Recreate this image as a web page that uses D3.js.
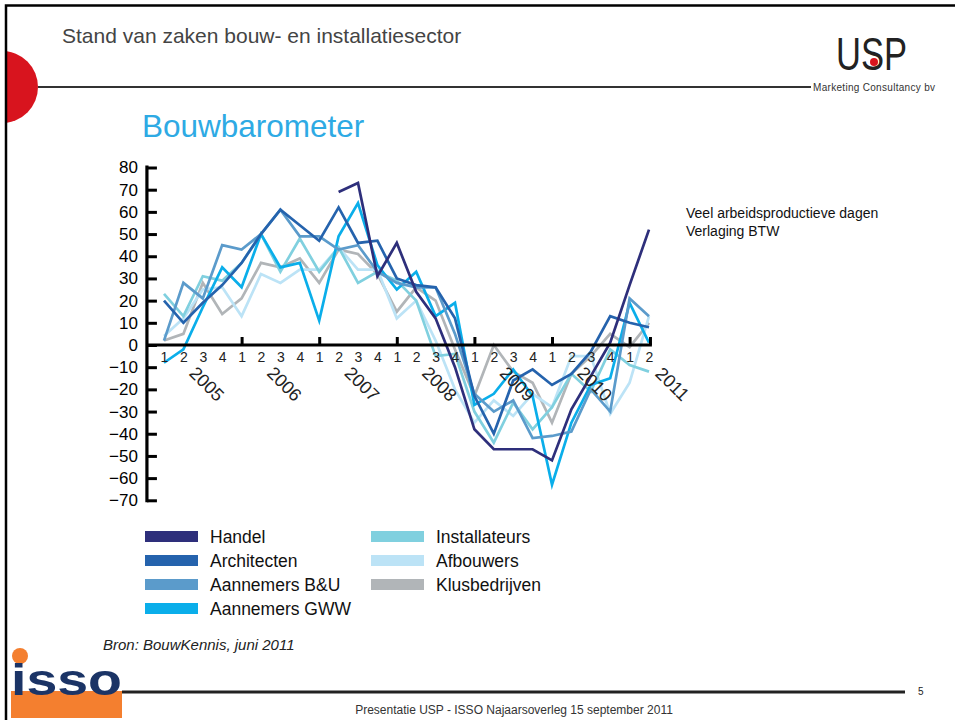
<!DOCTYPE html>
<html><head><meta charset="utf-8">
<script src="https://cdn.jsdelivr.net/npm/d3@7"></script>
<style>body{margin:0;background:#fff}svg{display:block}text{font-family:"Liberation Sans",Arial,sans-serif}</style>
</head><body>
<svg id="c" width="955" height="720"></svg>
<script>
const quarterLabels = ["1","2","3","4","1","2","3","4","1","2","3","4","1","2","3","4","1","2","3","4","1","2","3","4","1","2"];
const years = ["2005","2006","2007","2008","2009","2010","2011"];
const yTicks = [80,70,60,50,40,30,20,10,0,-10,-20,-30,-40,-50,-60,-70];
const seriesNames = ["Handel","Architecten","Aannemers B&U","Aannemers GWW","Installateurs","Afbouwers","Klusbedrijven"];
const seriesColors = ["#2e2f7b","#2563ad","#5b9bcb","#0aaeea","#80d0df","#bce3f6","#b1b5b8"];
const handel        = [null,null,null,null,null,null,null,null,null,69,73,31,46,24,12,-10,-38,-47,-47,-47,-52,-29,-14,1,27,52];
const architecten   = [20,10,19,27,37,50,61,54,47,62,46,47,30,27,26,12,-23,-40,-16,-11,-18,-13,-3,13,10,8];
const aannemersBU   = [2,28,21,45,43,50,61,49,49,43,45,33,28,26,26,5,-22,-30,-25,-42,-41,-39,-20,-30,21,13];
const aannemersGWW  = [-8,-2,17,35,26,50,35,37,11,49,64,36,25,33,13,19,-27,-22,-11,-23,-63,-35,-18,-15,19,1];
const installateurs = [23,13,31,29,37,50,33,48,33,44,28,33,29,20,-5,-4,-30,-44,-26,-38,-28,-13,-21,-2,-9,-12];
const afbouwers     = [4,12,25,26,13,32,28,34,34,44,34,34,12,20,2,-20,-35,-25,-32,-22,-28,-5,-5,-31,-17,13];
const klusbedrijven = [2,5,28,14,21,37,35,39,28,43,41,32,15,26,20,-2,-23,0,-12,-17,-35,-13,-5,5,-1,10];
const seriesValues = [handel,architecten,aannemersBU,aannemersGWW,installateurs,afbouwers,klusbedrijven];

const svg = d3.select("#c");

// slide decoration
svg.append("defs").append("clipPath").attr("id","cl").append("rect").attr("x",7).attr("y",0).attr("width",100).attr("height",200);
svg.append("circle").attr("cx",2).attr("cy",87).attr("r",36).attr("fill","#d8141e").attr("clip-path","url(#cl)");
svg.append("rect").attr("x",6).attr("y",5.5).attr("width",1000).attr("height",1000).attr("fill","none").attr("stroke","#000").attr("stroke-width",2.5);
svg.append("line").attr("x1",38).attr("x2",811).attr("y1",87).attr("y2",87).attr("stroke","#333").attr("stroke-width",2);
svg.append("text").attr("x",62).attr("y",43).attr("font-size",21).attr("fill","#444").text("Stand van zaken bouw- en installatiesector");
svg.append("text").attr("x",142).attr("y",137).attr("font-size",31.5).attr("fill","#2eaae4").text("Bouwbarometer");
// USP logo
svg.append("text").attr("x",836).attr("y",70).attr("font-size",46).attr("fill","#222").attr("textLength",71).attr("lengthAdjust","spacingAndGlyphs").style("font-family","'Liberation Sans Narrow','Liberation Sans',Arial").text("USP");
svg.append("circle").attr("cx",874).attr("cy",62).attr("r",4).attr("fill","#d8141e");
svg.append("text").attr("x",813).attr("y",91).attr("font-size",10).attr("fill","#333").attr("textLength",122).text("Marketing Consultancy bv");
// notes
svg.append("text").attr("x",686).attr("y",218).attr("font-size",14).attr("fill","#111").text("Veel arbeidsproductieve dagen");
svg.append("text").attr("x",686).attr("y",236).attr("font-size",14).attr("fill","#111").text("Verlaging BTW");
// source
svg.append("text").attr("x",103).attr("y",650).attr("font-size",15).attr("font-style","italic").attr("fill","#222").text("Bron: BouwKennis, juni 2011");
// ISSO logo
svg.append("rect").attr("x",11).attr("y",691).attr("width",111).attr("height",27).attr("fill","#f47f2f");
svg.append("circle").attr("cx",20).attr("cy",656).attr("r",8).attr("fill","#f47f2f");
svg.append("text").attr("x",11).attr("y",695).attr("font-size",44).attr("font-weight","bold").attr("fill","#1b3466").attr("textLength",111).attr("lengthAdjust","spacingAndGlyphs").text("isso");
// footer
svg.append("line").attr("x1",122).attr("x2",905).attr("y1",692).attr("y2",692).attr("stroke","#222").attr("stroke-width",3);
svg.append("text").attr("x",918).attr("y",695).attr("font-size",10).attr("fill","#222").text("5");
svg.append("text").attr("x",514).attr("y",714).attr("text-anchor","middle").attr("font-size",12).attr("fill","#333").text("Presentatie USP - ISSO Najaarsoverleg 15 september 2011");

// chart
const x = d3.scaleLinear().domain([0,25]).range([164,649]);
const y = d3.scaleLinear().domain([-70,80]).range([500.3,167.5]);

const line = d3.line().defined(d=>d!==null).x((d,i)=>x(i)).y(d=>y(d));
const g = svg.append("g");
for (let s = seriesValues.length-1; s>=0; s--) {
  g.append("path").datum(seriesValues[s]).attr("d",line).attr("fill","none")
   .attr("stroke",seriesColors[s]).attr("stroke-width",2.7).attr("stroke-linejoin","miter");
}

// y axis
const yAxis = d3.axisLeft(y).tickValues(yTicks).tickSizeInner(-10).tickSizeOuter(0).tickPadding(9);
const ya = svg.append("g").attr("transform",`translate(${x(-0.88)},0)`).call(yAxis);
ya.select(".domain").attr("stroke","#000").attr("stroke-width",3.2).attr("d",`M0,${y(80)-2}V${y(-70)+2}`);
ya.selectAll(".tick line").attr("stroke","#000").attr("stroke-width",3);
ya.selectAll(".tick text").attr("font-size",17).attr("fill","#000").style("font-family","'Liberation Sans',Arial");

// x axis line & year ticks
const xa = svg.append("g").attr("transform",`translate(0,${y(0)})`)
  .call(d3.axisTop(x).tickValues([4,8,12,16,20,24,25.05]).tickSize(8).tickFormat(""));
xa.select(".domain").attr("stroke","#000").attr("stroke-width",3).attr("d",`M${x(-0.9)},0H${x(25.15)}`);
xa.selectAll(".tick line").attr("stroke","#000").attr("stroke-width",3);

// quarter labels
const xq = svg.append("g").attr("transform",`translate(0,${y(0)})`)
  .call(d3.axisBottom(x).tickValues(d3.range(quarterLabels.length)).tickSize(0).tickPadding(7).tickFormat(i=>quarterLabels[i]));
xq.select(".domain").remove();
xq.selectAll(".tick text").attr("font-size",14).attr("fill","#222").style("font-family","'Liberation Sans',Arial");

// year labels
svg.append("g").selectAll("text").data(years).join("text")
  .attr("transform",(d,i)=>`translate(${x(i*4+2)+3},${y(0)+40}) rotate(45)`)
  .attr("text-anchor","middle").attr("dominant-baseline","middle")
  .attr("font-size",18).attr("fill","#222").text(d=>d);

// legend
const leg = svg.append("g");
seriesNames.forEach((n,i)=>{
  const col = i<4?0:1, row = i<4?i:i-4;
  const gx = col===0?145:371, gy = 531 + row*24;
  leg.append("rect").attr("x",gx).attr("y",gy).attr("width",53).attr("height",11).attr("fill",seriesColors[i]);
  leg.append("text").attr("x",gx+65).attr("y",gy+12).attr("font-size",17.5).attr("fill","#111").text(n);
});
</script>
</body></html>
